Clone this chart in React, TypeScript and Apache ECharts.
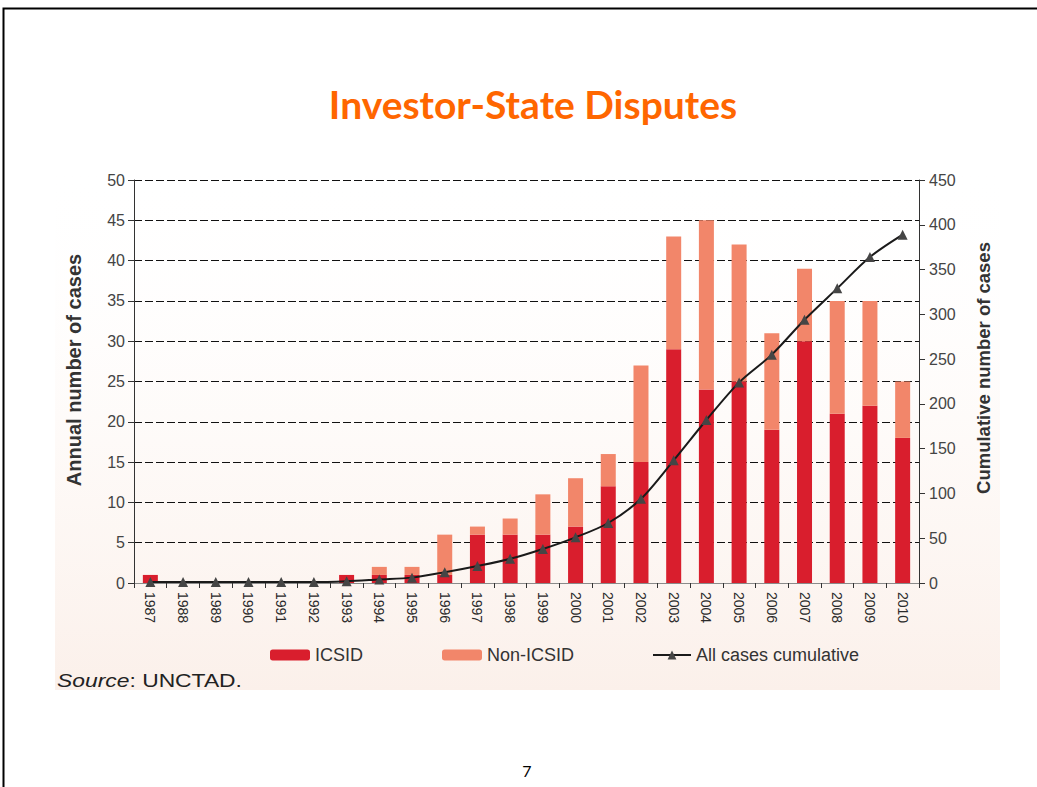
import React, { useEffect, useRef } from "react";
import * as echarts from "echarts";

const years = ["1987","1988","1989","1990","1991","1992","1993","1994","1995","1996","1997","1998","1999","2000","2001","2002","2003","2004","2005","2006","2007","2008","2009","2010"];
const icsid = [1,0,0,0,0,0,1,1,1,1,6,6,6,7,12,15,29,24,25,19,30,21,22,18];
const nonIcsid = [0,0,0,0,0,0,0,1,1,5,1,2,5,6,4,12,14,21,17,12,9,14,13,7];
const cumulative = [1,1,1,1,1,1,2,4,6,12,19,27,38,51,67,94,137,182,224,255,294,329,364,389];

const FONT = "'Liberation Sans', Arial, sans-serif";

export default function App() {
  const ref = useRef<HTMLDivElement>(null);
  useEffect(() => {
    if (!ref.current) return;
    const chart = echarts.init(ref.current, null, { renderer: "svg" });
    const legendText = { fontSize: 18, color: "#333", fontFamily: FONT };
    chart.setOption({
      animation: false,
      backgroundColor: "#ffffff",
      textStyle: { fontFamily: FONT },
      graphic: [
        {
          type: "rect",
          z: -10,
          silent: true,
          shape: { x: 55, y: 165, width: 945, height: 525 },
          style: {
            fill: new echarts.graphic.LinearGradient(0, 0, 0, 1, [
              { offset: 0, color: "rgba(255,255,255,0)" },
              { offset: 0.55, color: "rgba(253,246,242,0.6)" },
              { offset: 1, color: "#fbf0ea" },
            ]),
          },
        },
        {
          type: "polyline",
          silent: true,
          shape: { points: [[3.5, 787], [3.5, 8.5], [1037, 8.5]] },
          style: { stroke: "#000", lineWidth: 2, fill: null },
        },
        {
          type: "text",
          x: 533,
          y: 104,
          style: {
            text: "Investor-State Disputes",
            font: "bold 39px Lato, 'Open Sans', sans-serif",
            fill: "#FF6600",
            align: "center",
            verticalAlign: "middle",
          },
        },
        {
          type: "text",
          x: 57,
          y: 680,
          scaleX: 1.27,
          style: {
            text: "{i|Source}: UNCTAD.",
            font: `18px ${FONT}`,
            fill: "#222",
            verticalAlign: "middle",
            rich: {
              i: { fontStyle: "italic", fontSize: 18, fontFamily: FONT, fill: "#222" },
            },
          },
        },
        {
          type: "text",
          x: 527,
          y: 770,
          style: {
            text: "7",
            font: "16px Lato, sans-serif",
            fill: "#000",
            align: "center",
            verticalAlign: "middle",
          },
        },
      ],
      legend: [
        {
          data: ["ICSID"],
          left: 265,
          top: 641,
          itemWidth: 40,
          itemHeight: 11,
          textStyle: legendText,
        },
        {
          data: ["Non-ICSID"],
          left: 437,
          top: 641,
          itemWidth: 40,
          itemHeight: 11,
          textStyle: legendText,
        },
        {
          data: ["All cases cumulative"],
          left: 647,
          top: 641,
          itemWidth: 38,
          itemHeight: 11,
          textStyle: legendText,
        },
      ],
      grid: { left: 134, right: 118, top: 180, height: 403 },
      xAxis: [
        {
          type: "category",
          data: years,
          axisLine: { lineStyle: { color: "#333", width: 1 } },
          axisTick: { show: true, alignWithLabel: false, length: 5, lineStyle: { color: "#333" } },
          axisLabel: { rotate: -90, fontSize: 14, color: "#2a2a2a", margin: 9, interval: 0 },
          splitLine: { show: false },
        },
        {
          type: "category",
          data: years,
          position: "top",
          axisLine: { show: true, lineStyle: { color: "#8a8a8a", width: 1 } },
          axisTick: { show: false },
          axisLabel: { show: false },
          splitLine: { show: false },
        },
      ],
      yAxis: [
        {
          type: "value",
          min: 0,
          max: 50,
          interval: 5,
          position: "left",
          name: "Annual number of cases",
          nameLocation: "middle",
          nameRotate: 90,
          nameGap: 50,
          nameTextStyle: { fontSize: 20, fontWeight: "bold", color: "#333", padding: [0, 0, 0, 23] },
          axisLine: { show: true, lineStyle: { color: "#333" } },
          axisTick: { show: true, length: 6, lineStyle: { color: "#333" } },
          axisLabel: { fontSize: 16, color: "#444", margin: 9 },
          splitLine: { show: true, lineStyle: { color: "#111", type: [8, 3], width: 1.2 } },
        },
        {
          type: "value",
          min: 0,
          max: 450,
          interval: 50,
          position: "right",
          name: "Cumulative number of cases",
          nameLocation: "middle",
          nameRotate: 90,
          nameGap: 55,
          nameTextStyle: { fontSize: 18.5, fontWeight: "bold", color: "#333", padding: [0, 0, 0, 27] },
          axisLine: { show: true, lineStyle: { color: "#333" } },
          axisTick: { show: true, length: 6, lineStyle: { color: "#333" } },
          axisLabel: { fontSize: 16, color: "#444", margin: 10 },
          splitLine: { show: false },
        },
      ],
      series: [
        {
          name: "ICSID",
          type: "bar",
          stack: "total",
          barWidth: 15,
          data: icsid,
          itemStyle: { color: "#D91E2D" },
        },
        {
          name: "Non-ICSID",
          type: "bar",
          stack: "total",
          barWidth: 15,
          data: nonIcsid,
          itemStyle: { color: "#F2866A" },
        },
        {
          name: "All cases cumulative",
          type: "line",
          yAxisIndex: 1,
          data: cumulative,
          smooth: 0.3,
          symbol: "triangle",
          symbolSize: 10,
          z: 5,
          itemStyle: { color: "#454545" },
          lineStyle: { color: "#1a1a1a", width: 2 },
        },
      ],
    });
    return () => chart.dispose();
  }, []);
  return (
    <div
      ref={ref}
      style={{ position: "absolute", left: 0, top: 0, width: 1037, height: 787 }}
    />
  );
}
